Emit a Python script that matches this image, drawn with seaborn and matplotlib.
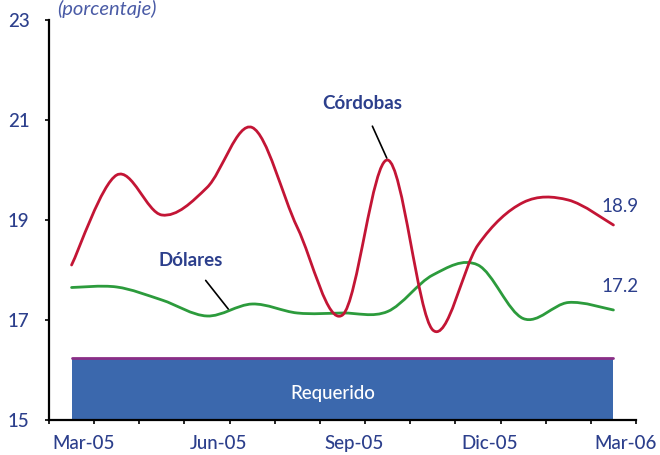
import matplotlib
matplotlib.use("Agg")
import matplotlib.pyplot as plt
import matplotlib.transforms as mtransforms
from matplotlib.path import Path
from matplotlib.patches import PathPatch
import numpy as np
import pandas as pd
import seaborn as sns

months = ["Mar-05", "Abr-05", "May-05", "Jun-05", "Jul-05", "Ago-05", "Sep-05",
          "Oct-05", "Nov-05", "Dic-05", "Ene-06", "Feb-06", "Mar-06"]
cordobas = [18.1, 19.9, 19.1, 19.65, 20.85, 18.85, 17.1, 20.2, 16.8, 18.5, 19.35, 19.4, 18.9]
dolares = [17.65, 17.66, 17.4, 17.08, 17.32, 17.14, 17.14, 17.17, 17.9, 18.1, 17.03, 17.35, 17.2]
requerido = [16.25] * 13
shown_labels = ["Mar-05", "Jun-05", "Sep-05", "Dic-05", "Mar-06"]

sns.set_theme(style="white")
plt.rcParams['font.family'] = ['Lato', 'DejaVu Sans']

TXT = "#2C3F8C"
RED = "#C31535"
GREEN = "#2C9B3C"
BLUE = "#3B68AD"
PURPLE = "#8A2E86"
FS = 13.5

df = pd.DataFrame({"x": np.arange(len(months)), "mes": months,
                   "cordobas": cordobas, "dolares": dolares, "requerido": requerido})

fig = plt.figure(figsize=(6.6, 4.55), dpi=100)
ax = fig.add_axes([49/660, 1-420/455, (636-49)/660, 400/455])

# Requerido area
ax.fill_between(df["x"], 15, df["requerido"], color=BLUE, lw=0, zorder=1)
sns.lineplot(data=df, x="x", y="requerido", color=PURPLE, lw=2, ax=ax, zorder=2)

def smooth_path(xs, ys):
    pts = np.column_stack([xs, ys]).astype(float)
    n = len(pts)
    verts = [pts[0]]
    codes = [Path.MOVETO]
    for i in range(n - 1):
        p0 = pts[i - 1] if i > 0 else pts[i]
        p1 = pts[i]
        p2 = pts[i + 1]
        p3 = pts[i + 2] if i + 2 < n else pts[i + 1]
        c1 = p1 + (p2 - p0) / 6.0
        c2 = p2 - (p3 - p1) / 6.0
        verts += [c1, c2, p2]
        codes += [Path.CURVE4] * 3
    return Path(verts, codes)

ax.add_patch(PathPatch(smooth_path(df["x"], df["cordobas"]), fill=False,
                       edgecolor=RED, lw=2, zorder=4, capstyle='round'))
ax.add_patch(PathPatch(smooth_path(df["x"], df["dolares"]), fill=False,
                       edgecolor=GREEN, lw=2, zorder=3, capstyle='round'))

ax.set_xlim(-0.5, len(months) - 0.5)
ax.set_ylim(15, 23)
ax.set_xlabel("")
ax.set_ylabel("")

for s in ["top", "right"]:
    ax.spines[s].set_visible(False)
for s in ["left", "bottom"]:
    ax.spines[s].set_visible(True)
    ax.spines[s].set_color("black")
    ax.spines[s].set_linewidth(1.6)

ax.set_yticks([15, 17, 19, 21, 23])
ax.tick_params(axis="y", which="major", left=True, length=3, width=1.2, color="black",
               pad=11, labelsize=FS, labelcolor=TXT)
for lab in ax.get_yticklabels():
    lab.set_fontweight("medium")

label_pos = [months.index(m) for m in shown_labels]
ax.set_xticks(label_pos)
ax.set_xticklabels(shown_labels)
ax.set_xticks(np.arange(-0.5, len(months), 1), minor=True)
ax.tick_params(axis="x", which="major", length=0, pad=11, labelsize=FS, labelcolor=TXT)
ax.tick_params(axis="x", which="minor", bottom=True, length=3, width=1.2, color="black")
offset = mtransforms.ScaledTranslation(12/100, 0, fig.dpi_scale_trans)
for lab in ax.get_xticklabels():
    lab.set_transform(lab.get_transform() + offset)
    lab.set_fontweight("medium")

ax.text(5.79, 15.54, "Requerido", color="white", fontsize=FS, ha="center", va="center",
        fontweight="medium", zorder=5)

ax.annotate("Córdobas", xy=(6.98, 20.24), xytext=(6.43, 21.34), color=TXT, fontsize=FS,
            fontweight="bold", ha="center", va="center",
            arrowprops=dict(arrowstyle="-", color="black", lw=1.2, shrinkA=9, shrinkB=0), zorder=6)
ax.annotate("Dólares", xy=(3.47, 17.22), xytext=(2.63, 18.18), color=TXT, fontsize=FS,
            fontweight="bold", ha="center", va="center",
            arrowprops=dict(arrowstyle="-", color="black", lw=1.2, shrinkA=7, shrinkB=0), zorder=6)

ax.text(11.73, 19.26, f"{cordobas[-1]:.1f}", color=TXT, fontsize=FS, ha="left", va="center")
ax.text(11.73, 17.66, f"{dolares[-1]:.1f}", color=TXT, fontsize=FS, ha="left", va="center")

fig.text(57/660, 1-9/455, "(porcentaje)", color="#4A5BA6", fontsize=14.5, style="italic",
         ha="left", va="center")

fig.savefig("out.png", dpi=100)
